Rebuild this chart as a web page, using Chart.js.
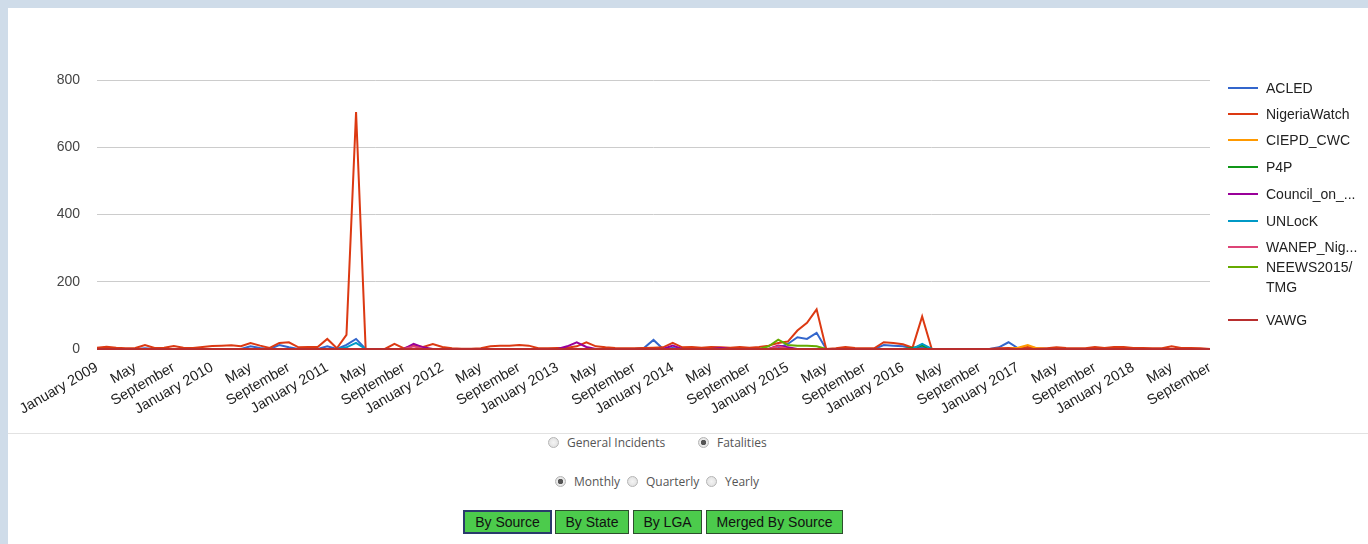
<!DOCTYPE html>
<html>
<head>
<meta charset="utf-8">
<script src="https://cdn.jsdelivr.net/npm/chart.js@4/dist/chart.umd.min.js"></script>
<style>
  html, body { margin: 0; padding: 0; }
  body { width: 1368px; height: 544px; background: #cfdce9; position: relative; overflow: hidden; font-family: "Liberation Sans", Arial, sans-serif; }
  #panel { position: absolute; left: 8px; top: 8px; right: 0; bottom: 0; background: #fff; }
  #chart-wrap { position: absolute; left: 0; top: 0; width: 1368px; height: 430px; }
  #legend { position: absolute; left: 1228px; top: 0; width: 140px; }
  .leg-item { position: absolute; left: 0; width: 140px; font-size: 14px; color: #222; line-height: 20px; }
  .leg-item .swatch { position: absolute; left: 0; top: 9px; width: 30px; height: 2px; }
  .leg-item .txt { position: absolute; left: 38px; top: 0; width: 102px; }
  #sep { position: absolute; left: 8px; right: 0; top: 433px; height: 1px; background: #e2e2e2; }
  .opt { position: absolute; font-family: "Open Sans", sans-serif; font-size: 12px; color: #555; white-space: nowrap; }
  .opt input { -webkit-appearance: none; appearance: none; position: absolute; left: 0; top: 0; margin: 0; width: 11px; height: 11px; box-sizing: border-box; border: 1px solid #b5b5b5; border-radius: 50%; background: radial-gradient(circle, #f4f4f4 0%, #dcdcdc 100%); }
  .opt input:checked { background: radial-gradient(circle, #555 0 2.5px, #ececec 3px, #d8d8d8 100%); }
  .opt span { position: absolute; left: 19px; top: -3px; }
  .btn { position: absolute; top: 510px; height: 24px; box-sizing: border-box; background: #4ccb4c; border: 1px solid #2d4f2d; font-family: "Liberation Sans", Arial, sans-serif; font-size: 14px; color: #111; text-align: center; line-height: 22px; }
  .btn.active { border: 2px solid #2a3b6b; line-height: 20px; }
</style>
</head>
<body>
<div id="panel"></div>
<div id="chart-wrap"><canvas id="trends-chart" width="1368" height="430"></canvas></div>
<div id="legend"></div>
<div id="sep"></div>

<div class="opt" style="left:548px; top:437px; width:120px;"><input type="radio" name="scope"><span>General Incidents</span></div>
<div class="opt" style="left:698px; top:437px; width:80px;"><input type="radio" name="scope" checked><span>Fatalities</span></div>
<div class="opt" style="left:555px; top:476px; width:70px;"><input type="radio" name="period" checked><span>Monthly</span></div>
<div class="opt" style="left:627px; top:476px; width:70px;"><input type="radio" name="period"><span>Quarterly</span></div>
<div class="opt" style="left:706px; top:476px; width:60px;"><input type="radio" name="period"><span>Yearly</span></div>

<div class="btn active" style="left:463px; width:89px;">By Source</div>
<div class="btn" style="left:555px; width:74px;">By State</div>
<div class="btn" style="left:633px; width:69px;">By LGA</div>
<div class="btn" style="left:706px; width:137px;">Merged By Source</div>

<script>
// tick label parts: one point per month, January 2009 .. September 2018
const monthNames = ['January', 'February', 'March', 'April', 'May', 'June', 'July', 'August', 'September', 'October', 'November', 'December'];
const years = [2009, 2010, 2011, 2012, 2013, 2014, 2015, 2016, 2017, 2018];
const lastMonthIndex = 116;

// series names as shown in the legend
const sourceNames = ['ACLED', 'NigeriaWatch', 'CIEPD_CWC', 'P4P', 'Council_on_...', 'UNLocK', 'WANEP_Nig...', 'NEEWS2015/TMG', 'VAWG'];
const sourceColors = ['#3366cc', '#dc3912', '#ff9900', '#109618', '#990099', '#0099c6', '#dd4477', '#66aa00', '#b82e2e'];

// monthly fatalities per source (rows are years, 2009 .. 2018)
const acled = [
  0, 0, 0, 0, 0, 2, 0, 0, 0, 0, 0, 0,
  0, 0, 0, 0, 8, 3, 0, 12, 5, 0, 0, 0,
  8, 0, 12, 30, 0, 0, 0, 0, 0, 0, 0, 0,
  0, 0, 0, 0, 0, 0, 0, 0, 0, 0, 0, 0,
  0, 0, 0, 0, 0, 0, 0, 0, 0, 3, 27, 0,
  3, 0, 0, 0, 0, 0, 2, 0, 0, 0, 0, 3,
  15, 35, 30, 48, 0, 0, 0, 0, 0, 0, 12, 10,
  8, 3, 5, 0, 0, 0, 0, 0, 0, 0, 5, 20,
  2, 0, 0, 0, 0, 0, 0, 0, 0, 0, 0, 0,
  0, 0, 0, 0, 0, 0, 0, 0, 0
];
const nigeriaWatch = [
  4, 7, 4, 2, 3, 12, 3, 4, 9, 4, 3, 6,
  9, 10, 11, 8, 18, 10, 3, 18, 20, 5, 6, 6,
  30, 2, 42, 705, 0, 0, 0, 15, 2, 10, 6, 15,
  6, 2, 1, 1, 2, 8, 10, 10, 12, 10, 2, 2,
  3, 4, 8, 20, 8, 5, 3, 2, 2, 3, 4, 5,
  18, 5, 6, 4, 6, 5, 4, 6, 4, 6, 10, 18,
  22, 55, 78, 118, 0, 2, 6, 3, 2, 2, 20, 18,
  14, 4, 97, 0, 0, 0, 0, 0, 0, 0, 2, 3,
  2, 6, 2, 2, 5, 3, 2, 2, 6, 3, 6, 6,
  3, 3, 2, 2, 8, 3, 3, 2, 0
];
const ciepdCwc = [
  0, 0, 0, 0, 0, 0, 0, 0, 0, 0, 0, 0,
  0, 0, 0, 0, 0, 0, 0, 0, 0, 0, 0, 0,
  0, 0, 0, 0, 0, 0, 0, 0, 0, 0, 0, 0,
  0, 0, 0, 0, 0, 0, 0, 0, 0, 0, 0, 0,
  0, 0, 0, 0, 0, 0, 0, 0, 0, 0, 0, 0,
  0, 0, 0, 0, 0, 0, 0, 0, 0, 0, 0, 0,
  0, 0, 0, 0, 0, 0, 0, 0, 0, 0, 0, 0,
  0, 0, 0, 0, 0, 0, 0, 0, 0, 0, 0, 0,
  4, 12, 2, 0, 0, 0, 0, 0, 0, 0, 0, 0,
  0, 0, 0, 0, 0, 0, 0, 0, 0
];
const p4p = [
  0, 0, 0, 0, 0, 0, 0, 0, 0, 0, 0, 0,
  0, 0, 0, 0, 0, 0, 0, 0, 0, 0, 0, 0,
  0, 0, 0, 0, 0, 0, 0, 0, 0, 0, 0, 0,
  0, 0, 0, 0, 0, 0, 0, 0, 0, 0, 0, 0,
  0, 0, 0, 0, 0, 0, 0, 0, 0, 0, 0, 0,
  0, 0, 0, 0, 0, 0, 0, 0, 0, 0, 0, 0,
  0, 0, 0, 0, 0, 0, 0, 0, 0, 0, 0, 0,
  0, 3, 10, 0, 0, 0, 0, 0, 0, 0, 0, 0,
  0, 0, 0, 0, 0, 0, 0, 0, 0, 0, 0, 0,
  0, 0, 0, 0, 0, 0, 0, 0, 0
];
const councilOn = [
  0, 0, 0, 0, 0, 0, 0, 0, 0, 0, 0, 0,
  0, 0, 0, 0, 0, 0, 0, 0, 0, 0, 0, 0,
  0, 0, 0, 0, 0, 0, 0, 0, 0, 15, 5, 0,
  0, 0, 0, 0, 0, 0, 0, 0, 0, 0, 0, 0,
  0, 8, 20, 6, 0, 0, 0, 0, 0, 0, 0, 0,
  10, 0, 0, 0, 0, 3, 0, 0, 0, 0, 0, 10,
  5, 0, 0, 0, 0, 0, 0, 0, 0, 0, 0, 0,
  0, 0, 0, 0, 0, 0, 0, 0, 0, 0, 0, 0,
  0, 0, 0, 0, 0, 0, 0, 0, 0, 0, 0, 0,
  0, 0, 0, 0, 0, 0, 0, 0, 0
];
const unlock = [
  0, 0, 0, 0, 0, 0, 0, 0, 0, 0, 0, 0,
  0, 0, 0, 0, 0, 0, 0, 0, 0, 0, 0, 0,
  0, 0, 5, 18, 0, 0, 0, 0, 0, 0, 0, 0,
  0, 0, 0, 0, 0, 0, 0, 0, 0, 0, 0, 0,
  0, 0, 0, 0, 0, 0, 0, 0, 0, 0, 0, 0,
  0, 0, 0, 0, 0, 0, 0, 0, 0, 0, 0, 0,
  0, 0, 0, 0, 0, 0, 0, 0, 0, 0, 0, 0,
  0, 0, 15, 0, 0, 0, 0, 0, 0, 0, 0, 0,
  0, 0, 0, 0, 0, 0, 0, 0, 0, 0, 0, 0,
  0, 0, 0, 0, 0, 0, 0, 0, 0
];
const wanepNig = [
  0, 0, 0, 0, 0, 0, 0, 0, 0, 0, 0, 0,
  0, 0, 0, 0, 0, 0, 0, 0, 0, 0, 0, 0,
  0, 0, 0, 0, 0, 0, 0, 0, 0, 8, 0, 0,
  0, 0, 0, 0, 0, 0, 0, 0, 0, 0, 0, 0,
  0, 0, 0, 0, 0, 0, 0, 0, 0, 0, 0, 0,
  0, 0, 0, 0, 0, 0, 0, 0, 0, 0, 0, 8,
  0, 0, 0, 0, 0, 0, 0, 0, 0, 0, 0, 0,
  0, 0, 0, 0, 0, 0, 0, 0, 0, 0, 0, 0,
  0, 0, 0, 0, 0, 0, 0, 0, 0, 0, 0, 0,
  0, 0, 0, 0, 0, 0, 0, 0, 0
];
const neews2015 = [
  0, 0, 0, 0, 0, 0, 0, 0, 0, 0, 0, 0,
  0, 0, 0, 0, 0, 0, 0, 0, 0, 0, 0, 0,
  0, 0, 0, 0, 0, 0, 0, 0, 0, 0, 0, 0,
  0, 0, 0, 0, 0, 0, 0, 0, 0, 0, 0, 0,
  0, 0, 0, 0, 0, 0, 0, 0, 0, 0, 0, 0,
  0, 0, 0, 0, 0, 0, 0, 0, 0, 0, 8, 28,
  12, 10, 10, 8, 0, 0, 0, 0, 0, 0, 0, 0,
  0, 0, 0, 0, 0, 0, 0, 0, 0, 0, 0, 0,
  0, 0, 0, 0, 0, 0, 0, 0, 0, 0, 0, 0,
  0, 0, 0, 0, 0, 0, 0, 0, 0
];
const vawg = [
  0, 0, 0, 0, 0, 0, 0, 0, 0, 0, 0, 0,
  0, 0, 0, 0, 0, 0, 0, 0, 0, 0, 0, 0,
  0, 0, 0, 0, 0, 0, 0, 0, 0, 0, 0, 0,
  0, 0, 0, 0, 0, 0, 0, 0, 0, 0, 0, 0,
  0, 0, 0, 0, 0, 0, 0, 0, 0, 0, 0, 0,
  0, 0, 0, 0, 0, 0, 0, 0, 0, 0, 0, 0,
  0, 0, 0, 0, 0, 0, 0, 0, 0, 0, 0, 0,
  0, 0, 0, 0, 0, 0, 0, 0, 0, 0, 0, 0,
  0, 0, 0, 0, 0, 0, 0, 0, 0, 0, 0, 0,
  0, 0, 0, 0, 0, 0, 0, 0, 0
];
const seriesValues = [acled, nigeriaWatch, ciepdCwc, p4p, councilOn, unlock, wanepNig, neews2015, vawg];

// y axis ticks
const yTicks = [0, 200, 400, 600, 800];

// build month labels
var labels = [];
for (var i = 0; i <= lastMonthIndex; i++) {
    var m = i % 12;
    var y = years[Math.floor(i / 12)];
    labels.push(m === 0 ? monthNames[m] + ' ' + y : monthNames[m]);
}

// build the datasets, last series is drawn on top like the original
var datasets = seriesValues.map(function (values, idx) {
    return {
        label: sourceNames[idx],
        data: values,
        borderColor: sourceColors[idx],
        backgroundColor: sourceColors[idx],
        borderWidth: 2,
        pointRadius: 0,
        pointHoverRadius: 0,
        tension: 0,
        fill: false,
        clip: false,
        order: seriesValues.length - idx
    };
});

// html legend, to get the wrapped NEEWS entry
var legendTops = [78, 104, 130, 157, 184, 211, 237, 257, 310];
var legendBox = document.getElementById('legend');
sourceNames.forEach(function (name, idx) {
    var item = document.createElement('div');
    item.className = 'leg-item';
    item.style.top = legendTops[idx] + 'px';
    var sw = document.createElement('div');
    sw.className = 'swatch';
    sw.style.background = sourceColors[idx];
    var txt = document.createElement('div');
    txt.className = 'txt';
    txt.textContent = name.replace('/', '/\n');
    txt.style.whiteSpace = 'pre-line';
    item.appendChild(sw);
    item.appendChild(txt);
    legendBox.appendChild(item);
});

var ctx = document.getElementById('trends-chart').getContext('2d');
new Chart(ctx, {
    type: 'line',
    data: { labels: labels, datasets: datasets },
    options: {
        responsive: false,
        animation: false,
        events: [],
        layout: { padding: { left: 0, right: 158, top: 80, bottom: 0 } },
        font: { family: "'Liberation Sans', Arial, sans-serif" },
        plugins: {
            legend: { display: false },
            tooltip: { enabled: false },
            title: { display: false }
        },
        scales: {
            x: {
                grid: { display: false, drawTicks: false },
                border: { display: false },
                afterFit: function (scale) { scale.height = 81; },
                ticks: {
                    autoSkip: false,
                    minRotation: 30,
                    maxRotation: 30,
                    padding: 10,
                    color: '#222',
                    font: { size: 14.5, family: "'Liberation Sans', Arial, sans-serif" },
                    callback: function (value, index) {
                        return index % 4 === 0 ? labels[index] : null;
                    }
                }
            },
            y: {
                min: 0,
                max: 800,
                afterFit: function (scale) { scale.width = 97; },
                afterBuildTicks: function (scale) {
                    scale.ticks = yTicks.map(function (v) { return { value: v }; });
                },
                grid: { color: '#cccccc', drawTicks: false, lineWidth: 1 },
                border: { display: false },
                ticks: {
                    padding: 17,
                    color: '#444',
                    font: { size: 14, family: "'Liberation Sans', Arial, sans-serif" }
                }
            }
        }
    }
});
</script>
</body>
</html>
